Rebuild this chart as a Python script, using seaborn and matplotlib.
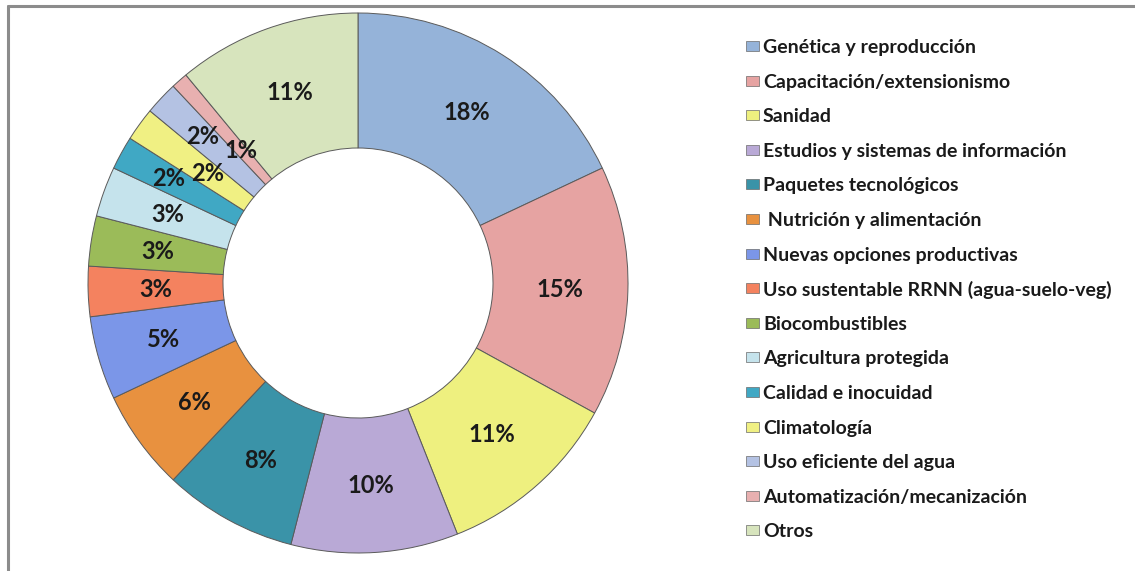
import numpy as np
import matplotlib
matplotlib.use("Agg")
import matplotlib.pyplot as plt
from matplotlib.lines import Line2D
from matplotlib.patches import Rectangle
import seaborn as sns

categories = [
    "Genética y reproducción",
    "Capacitación/extensionismo",
    "Sanidad",
    "Estudios y sistemas de información",
    "Paquetes tecnológicos",
    " Nutrición y alimentación",
    "Nuevas opciones productivas",
    "Uso sustentable RRNN (agua-suelo-veg)",
    "Biocombustibles",
    "Agricultura protegida",
    "Calidad e inocuidad",
    "Climatología",
    "Uso eficiente del agua",
    "Automatización/mecanización",
    "Otros",
]
values = [18, 15, 11, 10, 8, 6, 5, 3, 3, 3, 2, 2, 2, 1, 11]
pct_labels = ["18%", "15%", "11%", "10%", "8%", "6%", "5%", "3%", "3%", "3%",
              "2%", "2%", "2%", "1%", "11%"]
colors_hex = ["#95B3D9", "#E6A3A2", "#EEF07F", "#B9A9D6", "#3A93A8", "#E8913F",
              "#7B96E8", "#F4825F", "#9BBB59", "#C5E3EC", "#40A8C4", "#F0F083",
              "#B4C2E3", "#E8B0B0", "#D7E4BD"]

sns.set_theme(style="white")
plt.rcParams["font.family"] = ["Lato", "DejaVu Sans"]
palette = sns.color_palette(colors_hex)

W, H = 1135, 571
fig = plt.figure(figsize=(W / 100, H / 100), dpi=100)
fig.patch.set_facecolor("white")

# pie axes: center (358, 283) px, radius 270 px
cx, cy, R = 358, 283, 270
ax = fig.add_axes([(cx - R) / W, (H - cy - R) / H, 2 * R / W, 2 * R / H])

wedges, _ = ax.pie(values, colors=palette, startangle=90, counterclock=False,
                   radius=1.0,
                   wedgeprops=dict(width=0.5, edgecolor="#5a5a5a", linewidth=0.7))
ax.set_xlim(-1, 1)
ax.set_ylim(-1, 1)
ax.set_aspect("equal")
ax.axis("off")

# percentage labels
label_r = {10: 0.80, 11: 0.69, 12: 0.79, 13: 0.655}
for i, w in enumerate(wedges):
    ang = np.deg2rad((w.theta1 + w.theta2) / 2)
    r = label_r.get(i, 0.75)
    ax.text(r * np.cos(ang), r * np.sin(ang), pct_labels[i], ha="center", va="center",
            fontsize=17, fontweight="bold", color="#1a1a1a")

# legend (manual layout for exact row pitch)
lx0, ly0, pitch = 746, 46, 34.6
for i, (lab, col) in enumerate(zip(categories, palette)):
    yc = ly0 + i * pitch
    fig.add_artist(Rectangle((lx0 / W, 1 - (yc + 5) / H), 13 / W, 10 / H,
                             transform=fig.transFigure, facecolor=col,
                             edgecolor="#6a6a6a", linewidth=0.5))
    fig.text((lx0 + 17) / W, 1 - yc / H, lab, ha="left", va="center_baseline",
             fontsize=14, fontweight="bold", color="#1a1a1a",
             family=["Lato", "DejaVu Sans"])

# frame lines (top and left)
fig.add_artist(Line2D([8 / W, 1], [1 - 6 / H, 1 - 6 / H], transform=fig.transFigure,
                      color="#8c8c8c", linewidth=2.2))
fig.add_artist(Line2D([8 / W, 8 / W], [0, 1 - 6 / H], transform=fig.transFigure,
                      color="#8c8c8c", linewidth=2.2))

fig.savefig("out.png", dpi=100)
